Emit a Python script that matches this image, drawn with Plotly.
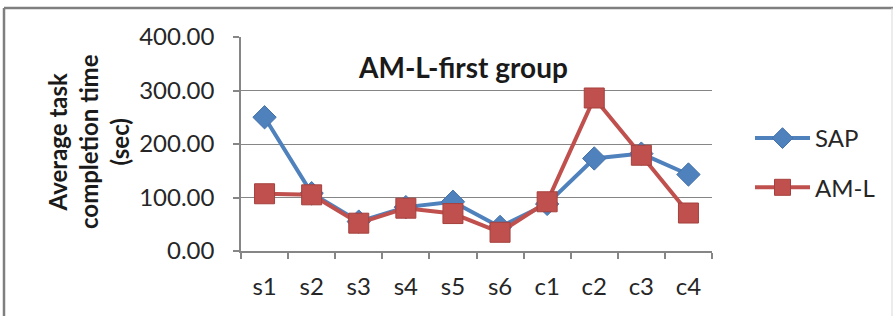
import plotly.graph_objects as go

categories = ["s1", "s2", "s3", "s4", "s5", "s6", "c1", "c2", "c3", "c4"]
sap = [250, 108, 55, 82, 92, 45, 88, 173, 182, 143]
aml = [107, 105, 52, 80, 70, 35, 92, 286, 179, 71]
y_ticks = [0, 100, 200, 300, 400]
y_tick_labels = ["0.00", "100.00", "200.00", "300.00", "400.00"]

FONT = "Lato, 'Open Sans', sans-serif"
W, H = 894, 316
L, R, T, B = 241, 182, 37, 65
pw, ph = W - L - R, H - T - B

def px(x):
    return (x - L) / pw

def py(y):
    return (H - B - y) / ph

fig = go.Figure()
fig.add_trace(go.Scatter(
    x=categories, y=sap, name="SAP", mode="lines+markers",
    legendgroup="a",
    line=dict(color="#4F81BD", width=4),
    marker=dict(symbol="diamond", size=18, color="#4F81BD",
                line=dict(color="#4672AA", width=1)),
))
fig.add_trace(go.Scatter(
    x=categories, y=aml, name="AM-L", mode="lines+markers",
    legendgroup="b",
    line=dict(color="#C0504D", width=4),
    marker=dict(symbol="square", size=20, color="#C0504D",
                line=dict(color="#A5403D", width=1)),
))

fig.update_layout(
    width=W, height=H,
    margin=dict(l=L, r=R, t=T, b=B, autoexpand=False),
    paper_bgcolor="white", plot_bgcolor="white",
    font=dict(family=FONT, color="#262626", size=24),
    showlegend=True,
    legend=dict(x=px(750), y=py(116), xanchor="left", yanchor="top",
                font=dict(size=24, color="#262626"),
                traceorder="grouped", itemwidth=55, tracegroupgap=15,
                bgcolor="rgba(0,0,0,0)"),
    xaxis=dict(
        type="category", range=[-0.5, len(categories) - 0.5],
        showline=True, linecolor="#868686", linewidth=1.5,
        ticks="outside", tickson="boundaries", ticklen=6, tickcolor="#868686",
        tickwidth=1.5, showgrid=False, tickfont=dict(size=24),
        ticklabelstandoff=13, zeroline=False,
    ),
    yaxis=dict(
        range=[0, 400], tickvals=y_ticks, ticktext=y_tick_labels,
        showline=True, linecolor="#868686", linewidth=1.5,
        ticks="outside", ticklen=6, tickcolor="#868686", tickwidth=1.5,
        showgrid=True, gridcolor="#868686", gridwidth=1,
        tickfont=dict(size=24), ticklabelstandoff=14, zeroline=False,
    ),
    annotations=[
        dict(text="<b>AM-L-first group</b>", x=px(463), y=py(67),
             xref="paper", yref="paper", showarrow=False,
             xanchor="center", yanchor="middle",
             font=dict(size=28, color="#1a1a1a")),
        dict(text="<b>Average task<br>completion time<br>(sec)</b>",
             x=px(88), y=py(142), xref="paper", yref="paper",
             showarrow=False, textangle=-90,
             xanchor="center", yanchor="middle",
             font=dict(size=24, color="#1a1a1a")),
    ],
    shapes=[
        dict(type="line", xref="paper", yref="paper",
             x0=px(4), x1=px(893), y0=py(8), y1=py(8),
             line=dict(color="#7f7f7f", width=2.5)),
        dict(type="line", xref="paper", yref="paper",
             x0=px(4), x1=px(4), y0=py(8), y1=py(320),
             line=dict(color="#7f7f7f", width=2.5)),
        dict(type="line", xref="paper", yref="paper",
             x0=px(892), x1=px(892), y0=py(8), y1=py(320),
             line=dict(color="#d9d9d9", width=1)),
    ],
)

fig.write_html("out.html", config={"displayModeBar": False},
               post_script="document.body.style.margin='0';")
